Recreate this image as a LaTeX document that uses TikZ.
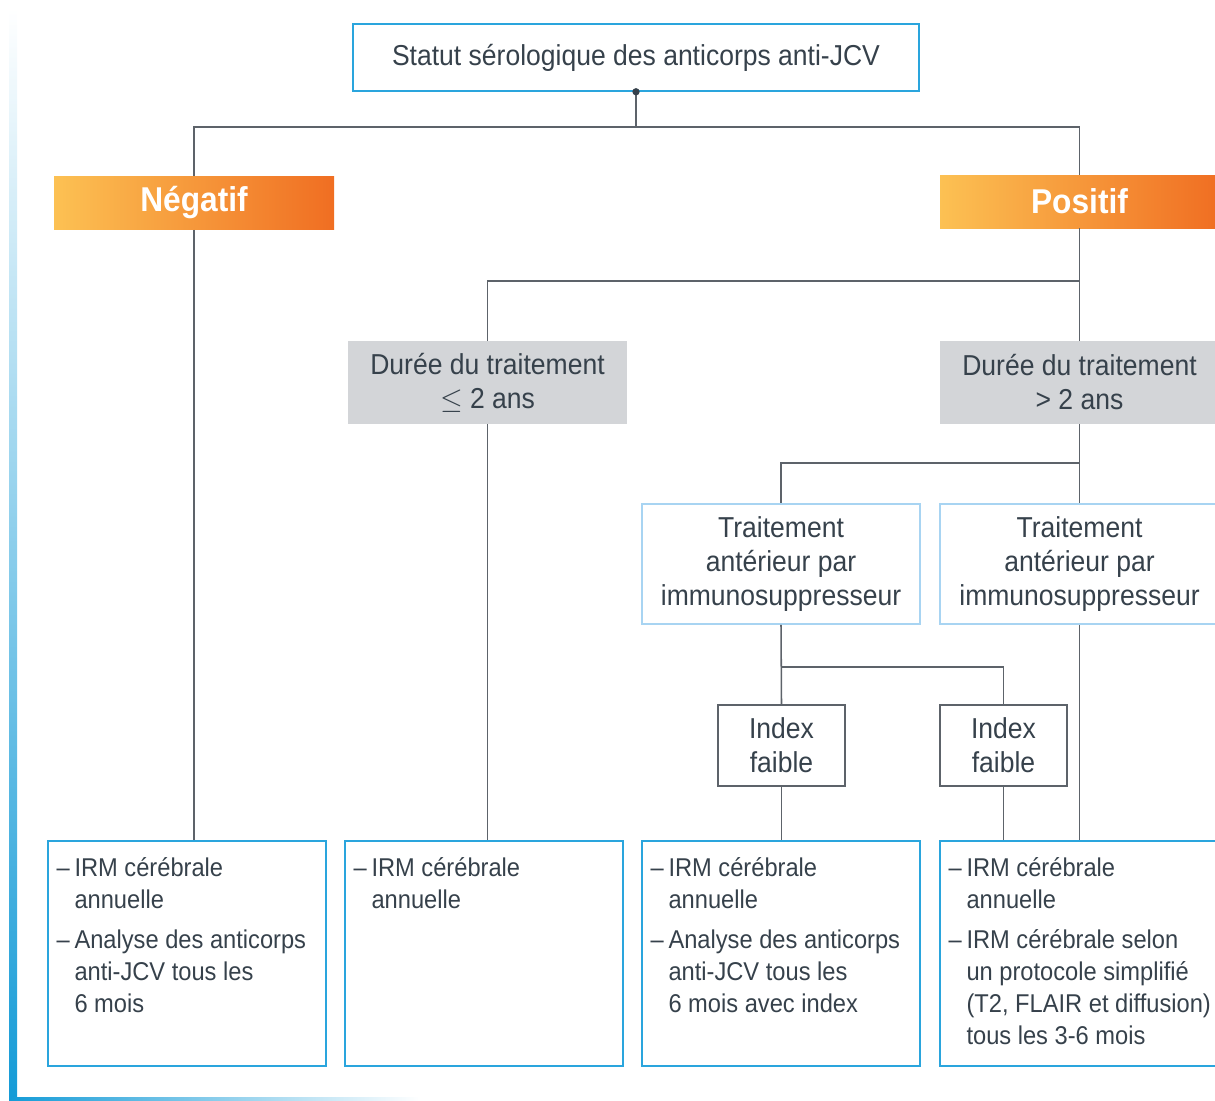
\documentclass[tikz,border=0pt]{standalone}
\usepackage{fontspec}
\setmainfont{Liberation Sans}[FakeStretch=0.92]
\usepackage{tikz}
\usetikzlibrary{arrows.meta}
\definecolor{jcvblue}{RGB}{42, 165, 221}
\definecolor{lblue}{RGB}{168, 212, 242}
\definecolor{lgray}{RGB}{211, 213, 216}
\definecolor{dtext}{RGB}{54, 65, 75}
\definecolor{lline}{RGB}{93, 99, 106}
\definecolor{oleft}{RGB}{252, 193, 83}
\definecolor{oright}{RGB}{240, 110, 34}
\definecolor{barblue}{RGB}{20, 155, 215}

\begin{document}
\begin{tikzpicture}[x = 0.025cm, y = -0.025cm,
		every node/.style = {text = dtext, inner sep = 0pt, font = \fontsize{20.5}{24.2}\selectfont},
		boxsize/.style 2 args = {minimum width = #1*0.025cm, minimum height = #2*0.025cm},
		cbox/.style = {draw = jcvblue, line width = 1.1pt},
		tbox/.style = {draw = lblue, line width = 1.1pt, align = center},
		gbox/.style = {fill = lgray, align = center},
		ibox/.style = {draw = lline, line width = 1.1pt, align = center},
		obox/.style = {shading = axis, left color = oleft, right color = oright, text = white, font = \fontsize{24.5}{30}\selectfont\bfseries},
		rtext/.style = {anchor = north west, inner xsep = 6.4pt, inner ysep = 9.6pt, font = \fontsize{18.3}{22.8}\selectfont},
		link/.style = {draw = lline, line width = 1.1pt}]
			\useasboundingbox (0,0) rectangle (1215,1100);
			\shade[top color = white, bottom color = barblue] (9,8) rectangle (17,1100);
			\shade[left color = barblue, right color = white] (9,1097) rectangle (420,1100);
			% boxes
			\node (stat) at (636,57.5) [cbox, boxsize = {566}{67}] {Statut sérologique des anticorps anti-JCV};
			\node (neg) at (194,203) [obox, boxsize = {280}{53}] {Négatif};
			\node (pos) at (1079.5,201.5) [obox, boxsize = {279}{53}] {Positif};
			\node (dur1) at (487.5,382.5) [gbox, boxsize = {279}{83}] {Durée du traitement\\$\leq$ 2 ans};
			\node (dur2) at (1079.5,382.5) [gbox, boxsize = {279}{83}] {Durée du traitement\\> 2 ans};
			\node (trt1) at (781,564) [tbox, boxsize = {278}{120}] {Traitement\\antérieur par\\immunosuppresseur};
			\node (trt2) at (1079.5,564) [tbox, boxsize = {279}{120}] {Traitement\\antérieur par\\immunosuppresseur};
			\node (idx1) at (781.5,745.5) [ibox, boxsize = {127}{81}] {Index\\faible};
			\node (idx2) at (1003.5,745.5) [ibox, boxsize = {127}{81}] {Index\\faible};
			\node (res1) at (187,953.5) [cbox, boxsize = {278}{225}] {};
			\node (res2) at (484,953.5) [cbox, boxsize = {278}{225}] {};
			\node (res3) at (781,953.5) [cbox, boxsize = {278}{225}] {};
			\node (res4) at (1079.5,953.5) [cbox, boxsize = {279}{225}] {};
			\node (res1t) at (res1.north west) [rtext] {\begin{tabular}[t]{@{}p{12.8pt}@{}l@{}}
				--&IRM cérébrale\\&annuelle\\[5.7pt]
				--&Analyse des anticorps\\&anti-JCV tous les\\&6 mois\end{tabular}};
			\node (res2t) at (res2.north west) [rtext] {\begin{tabular}[t]{@{}p{12.8pt}@{}l@{}}
				--&IRM cérébrale\\&annuelle\end{tabular}};
			\node (res3t) at (res3.north west) [rtext] {\begin{tabular}[t]{@{}p{12.8pt}@{}l@{}}
				--&IRM cérébrale\\&annuelle\\[5.7pt]
				--&Analyse des anticorps\\&anti-JCV tous les\\&6 mois avec index\end{tabular}};
			\node (res4t) at (res4.north west) [rtext] {\begin{tabular}[t]{@{}p{12.8pt}@{}l@{}}
				--&IRM cérébrale\\&annuelle\\[5.7pt]
				--&IRM cérébrale selon\\&un protocole simplifié\\&(T2, FLAIR et diffusion)\\&tous les 3-6 mois\end{tabular}};
			% links
			\coordinate (sj) at (636,127);
			\coordinate (pj) at (1079.5,281);
			\coordinate (dj) at (1079.5,463);
			\coordinate (tj) at (781,667);
			\draw[link] (stat.south) -- (sj);
			\draw[link] (sj) -| (neg.north);
			\draw[link] (sj) -| (pos.north);
			\draw[link] (pos.south) -- (dur2.north);
			\draw[link] (pj) -| (dur1.north);
			\draw[link] (neg.south) -- (neg.south |- res1.north);
			\draw[link] (dur1.south) -- (dur1.south |- res2.north);
			\draw[link] (dur2.south) -- (trt2.north);
			\draw[link] (dj) -| (trt1.north);
			\draw[link] (trt2.south) -- (trt2.south |- res4.north);
			\draw[link] (trt1.south) -- (idx1.north);
			\draw[link] (tj) -| (idx2.north);
			\draw[link] (idx1.south) -- (idx1.south |- res3.north);
			\draw[link] (idx2.south) -- (idx2.south |- res4.north);
			\fill[dtext] (stat.south) circle [radius = 2.6pt];
			\end{tikzpicture}
\end{document}
